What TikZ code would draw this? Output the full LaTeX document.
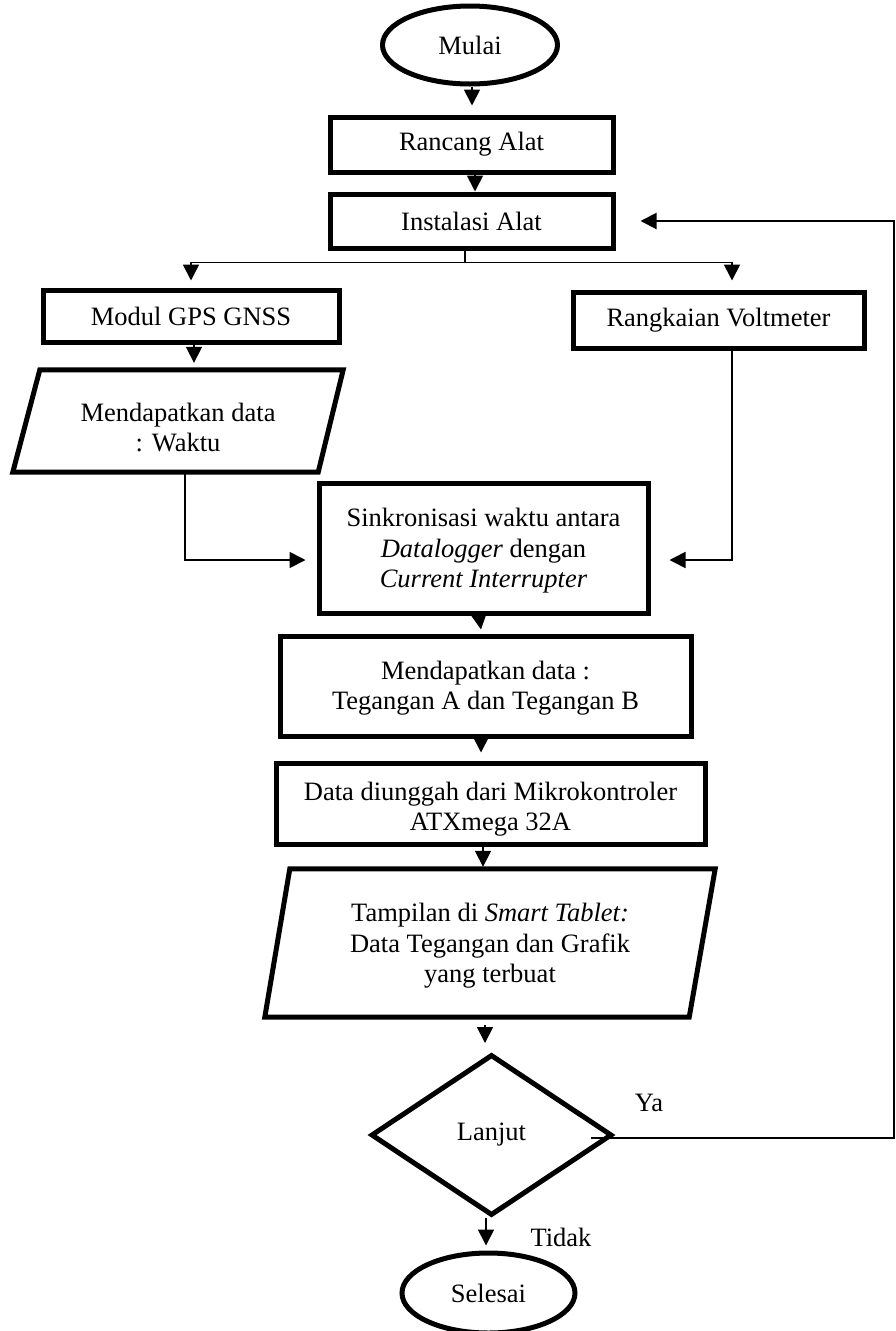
\documentclass[tikz,border=0pt]{standalone}
\usepackage{fontspec}
\setmainfont{Liberation Serif}
\usetikzlibrary{shapes.geometric,arrows.meta,calc}
\begin{document}
\begin{tikzpicture}[x=1pt,y=-1pt,
  every node/.style={font=\fontsize{26.5}{30.5}\selectfont, align=center, inner sep=0pt},
  stepbox/.style={draw, line width=5pt, rectangle},
  termbox/.style={draw, line width=5pt, ellipse},
  iobox/.style={draw=none, rectangle},
  decbox/.style={draw, line width=5pt, diamond},
  para/.style={line width=5pt, line join=miter},
  conn/.style={line width=1.8pt},
  arr/.style={line width=1.8pt, -{Triangle[width=16pt,length=16pt]}},
  lbl/.style={font=\fontsize{26.5}{30.5}\selectfont}
]
\useasboundingbox (0,0) rectangle (895,1331);

% nodes
\node[termbox, minimum width=175pt, minimum height=78pt] (mulai) at (470,45) {Mulai};
\node[stepbox, minimum width=283pt, minimum height=55pt] (rancang) at (471.5,144.5) {Rancang Alat};
\node[stepbox, minimum width=283pt, minimum height=54pt] (instal) at (471.5,221) {Instalasi Alat};
\node[stepbox, minimum width=296pt, minimum height=52pt] (modul) at (191,316) {Modul GPS GNSS};
\node[stepbox, minimum width=291pt, minimum height=56pt] (volt) at (718.5,320) {Rangkaian Voltmeter};

\node[iobox, minimum width=330pt, minimum height=102pt] (p1) at (178,421) {};
\draw[para] ([xshift=27pt]p1.north west) -- (p1.north east) -- ([xshift=-25pt]p1.south east) -- (p1.south west) -- cycle;
\node (p1t) at (178,427.5) {Mendapatkan data\\: Waktu};

\node[stepbox, minimum width=329pt, minimum height=130pt] (sink) at (483.5,548) {};
\node (sinkt) at (483.5,551) {Sinkronisasi waktu antara\\\textit{Datalogger} dengan\\\textit{Current Interrupter}};

\node[stepbox, minimum width=411pt, minimum height=100pt] (md) at (485.5,686) {};
\node (mdt) at (485.5,688) {Mendapatkan data :\\Tegangan A dan Tegangan B};

\node[stepbox, minimum width=429pt, minimum height=81pt] (du) at (490.5,803.5) {};
\node (dut) at (490.5,809) {Data diunggah dari Mikrokontroler\\ATXmega 32A};

\node[iobox, minimum width=450pt, minimum height=148pt] (p2) at (490,943) {};
\draw[para] ([xshift=25pt]p2.north west) -- (p2.north east) -- ([xshift=-26pt]p2.south east) -- (p2.south west) -- cycle;
\node (p2t) at (490,946) {Tampilan di \textit{Smart Tablet:}\\Data Tegangan dan Grafik\\yang terbuat};

\node[decbox, minimum width=241pt, minimum height=161pt] (lanjut) at (491.5,1135) {Lanjut};
\node[termbox, minimum width=173pt, minimum height=80pt] (selesai) at (488.5,1293) {Selesai};

\node[lbl] (ya) at (649,1103) {Ya};
\node[lbl] (tidak) at (561,1237) {Tidak};

\coordinate (rc) at (893.5,0);

% connectors
\draw[arr] ([xshift=2pt]mulai.south) -- ([xshift=0.5pt,yshift=9pt]rancang.north);
\draw[arr] ([xshift=3.5pt]rancang.south) -- ([xshift=3.5pt]instal.north);
\draw[conn] ([xshift=-6.5pt]instal.south) -- ++(0,12) coordinate (split);
\draw[arr] (split) -| ([yshift=7pt]modul.north);
\draw[arr] (split) -| ([xshift=13.5pt,yshift=9pt]volt.north);
\draw[arr] ([xshift=3pt]modul.south) -- ([xshift=16pt,yshift=7pt]p1.north);
\draw[arr] ([xshift=7pt]p1.south) |- ([xshift=-11pt,yshift=-12pt]sink.west);
\draw[arr] ([xshift=13.5pt]volt.south) |- ([xshift=19pt,yshift=-12pt]sink.east);
\draw[arr] ([xshift=-4.5pt]sink.south) -- ([xshift=-4.5pt,yshift=4pt]md.north);
\draw[arr] ([xshift=-4.5pt]md.south) -- ([xshift=-9.5pt,yshift=8pt]du.north);
\draw[arr] ([xshift=-7.5pt]du.south) -- ([xshift=-7pt,yshift=2pt]p2.north);
\draw[arr] ([xshift=-5pt,yshift=-8pt]p2.south) -- ([xshift=-6.5pt,yshift=9pt]lanjut.north);
\draw[arr] ([xshift=-5.5pt]lanjut.south) -- ([xshift=-2.5pt,yshift=5pt]selesai.north);
\draw[arr, line width=2pt] ([xshift=-24pt,yshift=-3pt]lanjut.east) -- ([yshift=-3pt]lanjut.east -| rc) |- ([xshift=25pt]instal.east);
\end{tikzpicture}
\end{document}
